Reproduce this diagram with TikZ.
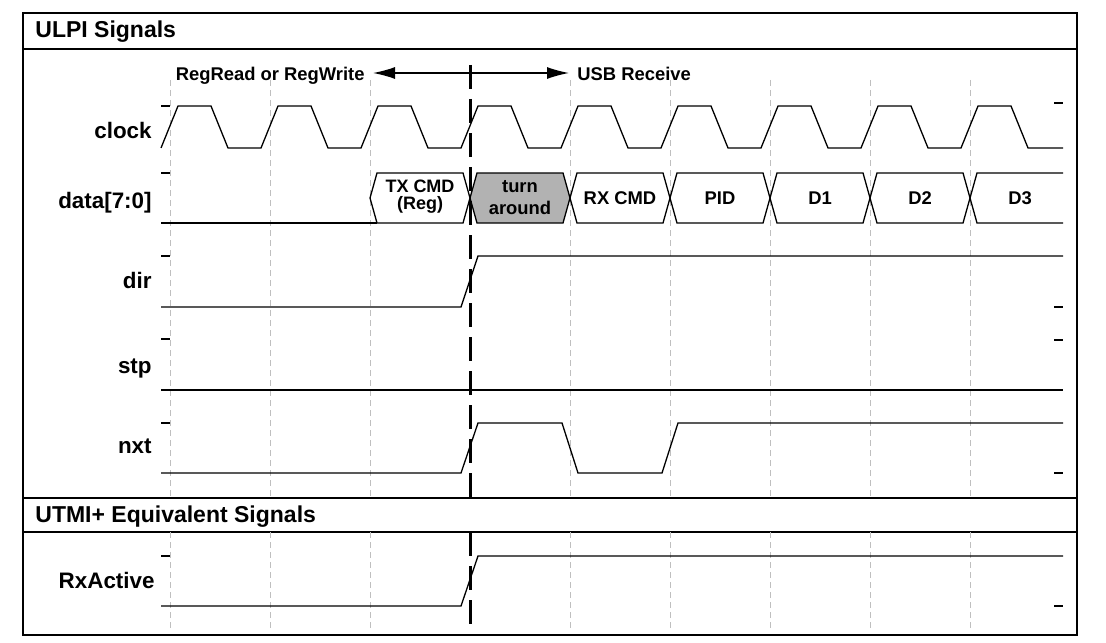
\documentclass[tikz,border=0pt]{standalone}
\usepackage{fontspec}
\setmainfont{Liberation Sans}
\usetikzlibrary{arrows.meta, positioning}

\tikzset{
  sig/.style={line width=0.65pt},
  grid/.style={gray!50, line width=0.5pt, dash pattern=on 3pt off 2pt},
  marker/.style={line width=1.5pt, dash pattern=on 12pt off 5pt},
  frame/.style={line width=1.3pt},
  sep/.style={line width=0.65pt},
  lbl/.style={anchor=base east, inner sep=0pt, font=\fontsize{11.2}{13}\selectfont\bfseries},
  hdr/.style={anchor=base west, inner sep=0pt, font=\fontsize{11.5}{13}\selectfont\bfseries},
  phase/.style={inner xsep=4pt, inner ysep=0pt, font=\fontsize{9.2}{11}\selectfont\bfseries},
  buslbl/.style={inner sep=0pt, align=center, font=\fontsize{9.2}{11}\selectfont\bfseries},
}

\begin{document}
\begin{tikzpicture}[x=0.5pt, y=-0.5pt, >={Latex[length=11pt,width=6pt]}]
    \useasboundingbox (0,0) rectangle (1106,642);

    % frame and headers
    \draw[frame] (23,13) rectangle (1077,635);
    \draw[sep] (23,49) -- (1077,49);
    \draw[sep] (23,498) -- (1077,498);
    \draw[sep] (23,532) -- (1077,532);
    \node[hdr] (ulpi) at (35,38) {ULPI Signals};
    \node[hdr] (utmi) at (35,522) {UTMI+ Equivalent Signals};

    % clock grid
    \foreach \x in {170,270,370,570,670,770,870,970} {
        \draw[grid] (\x,80) -- (\x,498);
        \draw[grid] (\x,532) -- (\x,630);
    }

    % signal names
    \node[lbl] (clk) at (152,138) {clock};
    \node[lbl] (data) at (152,208) {data[7:0]};
    \node[lbl] (dir) at (152,288) {dir};
    \node[lbl] (stp) at (152,373) {stp};
    \node[lbl] (nxt) at (152,453) {nxt};
    \node[lbl] (rxactive) at (155,588) {RxActive};

    % level ticks
    \foreach \y in {106,173,256,339,423,556}
        \draw[sig] (161,\y) -- (170,\y);
    \foreach \y in {103,307,340,473,606}
        \draw[sig] (1054,\y) -- (1063,\y);

    % clock
    \draw[sig] (161,148) \foreach \k in {0,...,8} {
        -- ({178+100*\k},106) -- ({211+100*\k},106)
        -- ({228+100*\k},148) -- ({261+100*\k},148) } -- (1063,148);

    % data bus
    \draw[sig] (161,223) -- (377,223);
    \draw[sig] (370,198) -- (377,173) -- (463,173) -- (470,198)
        -- (463,223) -- (377,223) -- cycle;
    \node[buslbl, font=\fontsize{9}{8.6}\selectfont\bfseries] (txcmd)
        at (420,197) {TX CMD\\(Reg)};
    \draw[sig, fill=black!30] (470,198) -- (477,173) -- (563,173) -- (570,198)
        -- (563,223) -- (477,223) -- cycle;
    \node[buslbl] (turn) at (520,198) {turn\\around};
    \foreach \a/\nm/\txt in {570/rxcmd/RX CMD, 670/pid/PID, 770/done/D1, 870/dtwo/D2} {
        \draw[sig] (\a,198) -- ({\a+7},173) -- ({\a+93},173) -- ({\a+100},198)
            -- ({\a+93},223) -- ({\a+7},223) -- cycle;
        \node[buslbl] (\nm) at ({\a+50},198) {\txt};
    }
    \draw[sig] (1063,173) -- (977,173) -- (970,198) -- (977,223) -- (1063,223);
    \node[buslbl] (dthree) at (1020,198) {D3};

    % dir, stp, nxt
    \draw[sig] (161,307) -- (461,307) -- (478,256) -- (1063,256);
    \draw[sig, line width=0.8pt] (161,390) -- (1063,390);
    \draw[sig] (161,473) -- (461,473) -- (478,423) -- (562,423) -- (578,473)
        -- (662,473) -- (678,423) -- (1063,423);

    % RxActive
    \draw[sig] (161,606) -- (461,606) -- (478,556) -- (1063,556);

    % turnaround marker
    \draw[marker] (470,65) -- (470,498);
    \draw[marker] (470,532) -- (470,630);

    % phases
    \coordinate (split) at (470,73);
    \node[phase, anchor=base east] (regrw) at (373,81) {RegRead or RegWrite};
    \node[phase, anchor=base west] (usbrx) at (569,81) {USB Receive};
    \draw[->, sig] (split) -- (split -| regrw.east);
    \draw[->, sig] (split) -- (split -| usbrx.west);
\end{tikzpicture}
\end{document}
